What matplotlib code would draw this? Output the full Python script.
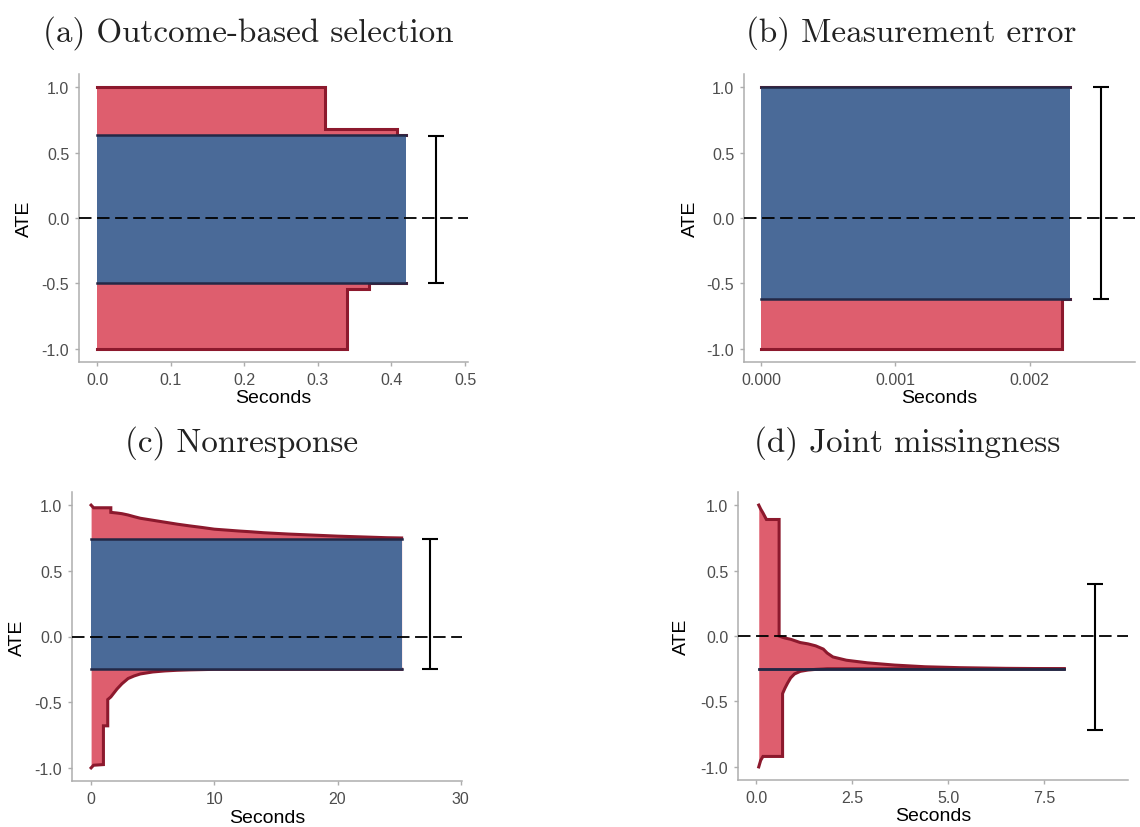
import matplotlib
matplotlib.use('Agg')
import matplotlib.pyplot as plt

plt.rcParams['axes.unicode_minus'] = False
plt.rcParams['lines.scale_dashes'] = False
plt.rcParams['font.family'] = ['Liberation Sans', 'DejaVu Sans']

# ---------------- data ----------------
# Repeated time values mark vertical jumps of the bounds.
# (a) Outcome-based selection
a_time = [0.0, 0.31, 0.31, 0.34, 0.34, 0.37, 0.37, 0.407, 0.407, 0.42]
a_upper = [1.0, 1.0, 0.68, 0.68, 0.68, 0.68, 0.68, 0.68, 0.634, 0.634]
a_lower = [-1.0, -1.0, -1.0, -1.0, -0.54, -0.54, -0.50, -0.50, -0.50, -0.50]
a_final = [-0.50, 0.634]
a_ci = [-0.50, 0.63]
a_ci_x = 0.46

# (b) Measurement error
b_time = [0.0, 0.002243, 0.002243, 0.002297]
b_upper = [1.0, 1.0, 1.0, 1.0]
b_lower = [-1.0, -1.0, -0.62, -0.62]
b_final = [-0.62, 1.0]
b_ci = [-0.62, 1.0]
b_ci_x = 0.00253

# (c) Nonresponse
c_time = [0.0, 0.2, 1.0, 1.0, 1.35, 1.35, 1.6, 1.6, 2.1, 2.5, 3.0, 3.5, 4.0, 5.0,
          6.0, 7.0, 8.0, 9.0, 10.0, 11.0, 12.0, 13.0, 14.0, 15.0, 16.0, 17.0, 18.0,
          19.0, 20.0, 22.0, 24.0, 25.2]
c_upper = [1.0, 0.98, 0.98, 0.98, 0.98, 0.98, 0.98, 0.945, 0.94, 0.935, 0.925,
           0.912, 0.90, 0.885, 0.87, 0.855, 0.842, 0.83, 0.817, 0.81, 0.803, 0.797,
           0.79, 0.785, 0.78, 0.776, 0.772, 0.768, 0.764, 0.758, 0.752, 0.75]
c_lower = [-1.0, -0.98, -0.975, -0.68, -0.68, -0.48, -0.46, -0.46, -0.40, -0.36,
           -0.32, -0.30, -0.285, -0.27, -0.262, -0.257, -0.254, -0.252, -0.25,
           -0.25, -0.25, -0.25, -0.25, -0.25, -0.25, -0.25, -0.25, -0.25, -0.25,
           -0.25, -0.25, -0.25]
c_final = [-0.25, 0.746]
c_ci = [-0.25, 0.746]
c_ci_x = 27.5

# (d) Joint missingness
d_time = [0.07, 0.12, 0.18, 0.27, 0.60, 0.60, 0.69, 0.69, 0.75, 0.82, 0.90, 1.00,
          1.15, 1.35, 1.55, 1.75, 1.85, 2.00, 2.35, 2.90, 3.60, 4.40, 5.30, 6.50,
          8.02]
d_upper = [1.0, 0.97, 0.94, 0.89, 0.89, 0.0, -0.01, -0.01, -0.015, -0.02, -0.025,
           -0.035, -0.05, -0.06, -0.075, -0.10, -0.13, -0.16, -0.185, -0.205,
           -0.222, -0.235, -0.242, -0.247, -0.25]
d_lower = [-1.0, -0.95, -0.92, -0.92, -0.92, -0.92, -0.92, -0.44, -0.40, -0.36,
           -0.32, -0.29, -0.27, -0.26, -0.255, -0.252, -0.25, -0.25, -0.25, -0.25,
           -0.25, -0.25, -0.25, -0.25, -0.25]
d_final = [-0.25, -0.25]
d_ci = [-0.72, 0.40]
d_ci_x = 8.81

y_ticks = [-1.0, -0.5, 0.0, 0.5, 1.0]
y_ticklabels = ['-1.0', '-0.5', '0.0', '0.5', '1.0']
a_xticks = [0.0, 0.1, 0.2, 0.3, 0.4, 0.5]
a_xticklabels = ['0.0', '0.1', '0.2', '0.3', '0.4', '0.5']
b_xticks = [0.0, 0.001, 0.002]
b_xticklabels = ['0.000', '0.001', '0.002']
c_xticks = [0, 10, 20, 30]
c_xticklabels = ['0', '10', '20', '30']
d_xticks = [0.0, 2.5, 5.0, 7.5]
d_xticklabels = ['0.0', '2.5', '5.0', '7.5']

titles = ['(a) Outcome-based selection', '(b) Measurement error',
          '(c) Nonresponse', '(d) Joint missingness']

# ---------------- style ----------------
RED_FILL = '#DE5E6E'
RED_LINE = '#8C192D'
BLUE_FILL = '#4A6A98'
BLUE_LINE = '#232846'
SPINE = '#ADADAD'
TICKTXT = '#4D4D4D'

W, H = 1140, 828
fig = plt.figure(figsize=(W / 100, H / 100), dpi=100)


def px_axes(l, t, r, b):
    return fig.add_axes([l / W, 1 - b / H, (r - l) / W, (b - t) / H])


def panel(ax, t, up, lo, final, ci, ci_x, xlim, xticks, xticklabels, ylab_x):
    ax.fill_between(t, lo, up, color=RED_FILL, lw=0, zorder=1)
    ax.plot(t, up, color=RED_LINE, lw=2.2, zorder=2, solid_joinstyle='miter')
    ax.plot(t, lo, color=RED_LINE, lw=2.2, zorder=2, solid_joinstyle='miter')
    ends = [t[0], t[-1]]
    ax.fill_between(ends, [final[0]] * 2, [final[1]] * 2, color=BLUE_FILL, lw=0, zorder=3)
    ax.plot(ends, [final[1]] * 2, color=BLUE_LINE, lw=1.8, zorder=4)
    ax.plot(ends, [final[0]] * 2, color=BLUE_LINE, lw=1.8, zorder=4)
    ax.axhline(0, color='black', lw=1.3, ls=(0, (9, 4)), zorder=5)
    mid = (ci[0] + ci[1]) / 2
    ax.errorbar([ci_x], [mid], yerr=[[mid - ci[0]], [ci[1] - mid]], fmt='none',
                ecolor='black', elinewidth=1.5, capsize=6, capthick=1.5, zorder=6)
    ax.set_xlim(*xlim)
    ax.set_ylim(-1.1, 1.1)
    ax.set_xticks(xticks)
    ax.set_xticklabels(xticklabels)
    ax.set_yticks(y_ticks)
    ax.set_yticklabels(y_ticklabels)
    for s in ('top', 'right'):
        ax.spines[s].set_visible(False)
    for s in ('left', 'bottom'):
        ax.spines[s].set_color(SPINE)
        ax.spines[s].set_linewidth(1.1)
    ax.tick_params(color=SPINE, labelcolor=TICKTXT, length=3, width=1,
                   labelsize=11.5, pad=4)
    ax.set_xlabel('Seconds', fontsize=14, color='black')
    ax.set_ylabel('ATE', fontsize=14, color='black')
    ax.xaxis.set_label_coords(0.5, -0.125)
    ax.xaxis.label.set_verticalalignment('center')
    ax.yaxis.set_label_coords(ylab_x, 0.5)
    ax.yaxis.label.set_verticalalignment('center')


ax_a = px_axes(79, 75, 468, 363)
ax_b = px_axes(744, 75, 1135, 363)
ax_c = px_axes(72, 493, 462, 782)
ax_d = px_axes(738, 493, 1128, 781)

panel(ax_a, a_time, a_upper, a_lower, a_final, a_ci, a_ci_x, (-0.0245, 0.504),
      a_xticks, a_xticklabels, -0.141)
panel(ax_b, b_time, b_upper, b_lower, b_final, b_ci, b_ci_x, (-0.000126, 0.002784),
      b_xticks, b_xticklabels, -0.1375)
panel(ax_c, c_time, c_upper, c_lower, c_final, c_ci, c_ci_x, (-1.55, 30.1),
      c_xticks, c_xticklabels, -0.14)
panel(ax_d, d_time, d_upper, d_lower, d_final, d_ci, d_ci_x, (-0.47, 9.68),
      d_xticks, d_xticklabels, -0.146)

title_pos = [(248, 42), (911, 42), (242, 452), (907, 452)]
for txt, (x, y) in zip(titles, title_pos):
    fig.text(x / W, 1 - y / H, txt, family='cmr10', fontsize=23.8,
             ha='center', va='baseline', color='#222222')

fig.savefig('out.png', dpi=100)
